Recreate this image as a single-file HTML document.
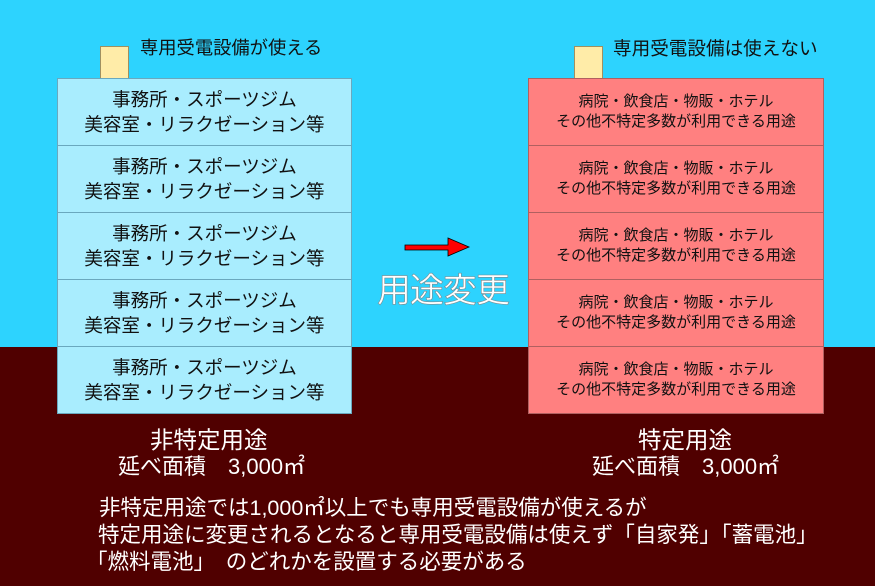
<!DOCTYPE html>
<html><head><meta charset="utf-8"><style>
body{margin:0;width:875px;height:586px;overflow:hidden;position:relative;font-family:"Liberation Sans","Noto Sans CJK JP",sans-serif;}
.sky{position:absolute;left:0;top:0;width:875px;height:347px;background:#2dd3fe;}
.gnd{position:absolute;left:0;top:347px;width:875px;height:239px;background:#500000;}
.b{position:absolute;top:78px;height:335px;}
.f{height:66px;border:1px solid #6aa8be;border-top:none;box-sizing:content-box;display:flex;align-items:center;justify-content:center;text-align:center;color:#111;white-space:nowrap;}
.L .f{background:#a9edfe;font-size:18.5px;line-height:25px;border-color:#6aa8be;}
.R .f{background:#ff8080;font-size:15px;line-height:20px;border-color:#b06060;}
.y{position:absolute;width:27px;height:31px;background:#ffeca8;border:1px solid #a09060;top:46px;}
.t{position:absolute;color:#111;font-size:18.3px;}
.w{position:absolute;color:#fff;font-size:21.5px;white-space:nowrap;}
.h{position:absolute;color:#fff;font-size:23.5px;white-space:nowrap;}
</style></head><body>
<div class="sky"></div><div class="gnd"></div>
<div class="y" style="left:100px"></div><div class="y" style="left:574px"></div>
<div class="t" style="left:140px;top:34px">専用受電設備が使える</div>
<div class="t" style="left:613px;top:34px;font-size:18.6px">専用受電設備は使えない</div>
<div class="b L" style="left:57px;width:295px">
<div class="f" style="border-top:1px solid #6aa8be">事務所・スポーツジム<br>美容室・リラクゼーション等</div>
<div class="f">事務所・スポーツジム<br>美容室・リラクゼーション等</div>
<div class="f">事務所・スポーツジム<br>美容室・リラクゼーション等</div>
<div class="f">事務所・スポーツジム<br>美容室・リラクゼーション等</div>
<div class="f">事務所・スポーツジム<br>美容室・リラクゼーション等</div>
</div>
<div class="b R" style="left:528px;width:296px">
<div class="f" style="border-top:1px solid #b06060">病院・飲食店・物販・ホテル<br>その他不特定多数が利用できる用途</div>
<div class="f">病院・飲食店・物販・ホテル<br>その他不特定多数が利用できる用途</div>
<div class="f">病院・飲食店・物販・ホテル<br>その他不特定多数が利用できる用途</div>
<div class="f">病院・飲食店・物販・ホテル<br>その他不特定多数が利用できる用途</div>
<div class="f">病院・飲食店・物販・ホテル<br>その他不特定多数が利用できる用途</div>
</div>
<svg style="position:absolute;left:400px;top:235px" width="70" height="30"><polygon points="5,10 48,10 48,3 69,12 48,21 48,15 5,15" fill="#f00" stroke="#000" stroke-width="0.8"/></svg>
<div style="position:absolute;left:377px;top:263px;font-size:34px;color:#fff;-webkit-text-stroke:0.6px #7a8a90;letter-spacing:-1px">用途変更</div>
<div class="h" style="left:150px;top:421px">非特定用途</div>
<div class="h" style="left:118px;top:449px;font-size:22px">延べ面積　3,000㎡</div>
<div class="h" style="left:638px;top:421px">特定用途</div>
<div class="h" style="left:592px;top:449px;font-size:22px">延べ面積　3,000㎡</div>
<div class="w" style="left:99px;top:491px">非特定用途では1,000㎡以上でも専用受電設備が使えるが</div>
<div class="w" style="left:98px;top:518px">特定用途に変更されるとなると専用受電設備は使えず「自家発」「蓄電池」</div>
<div class="w" style="left:86px;top:545px">「燃料電池」　のどれかを設置する必要がある</div>
</body></html>
